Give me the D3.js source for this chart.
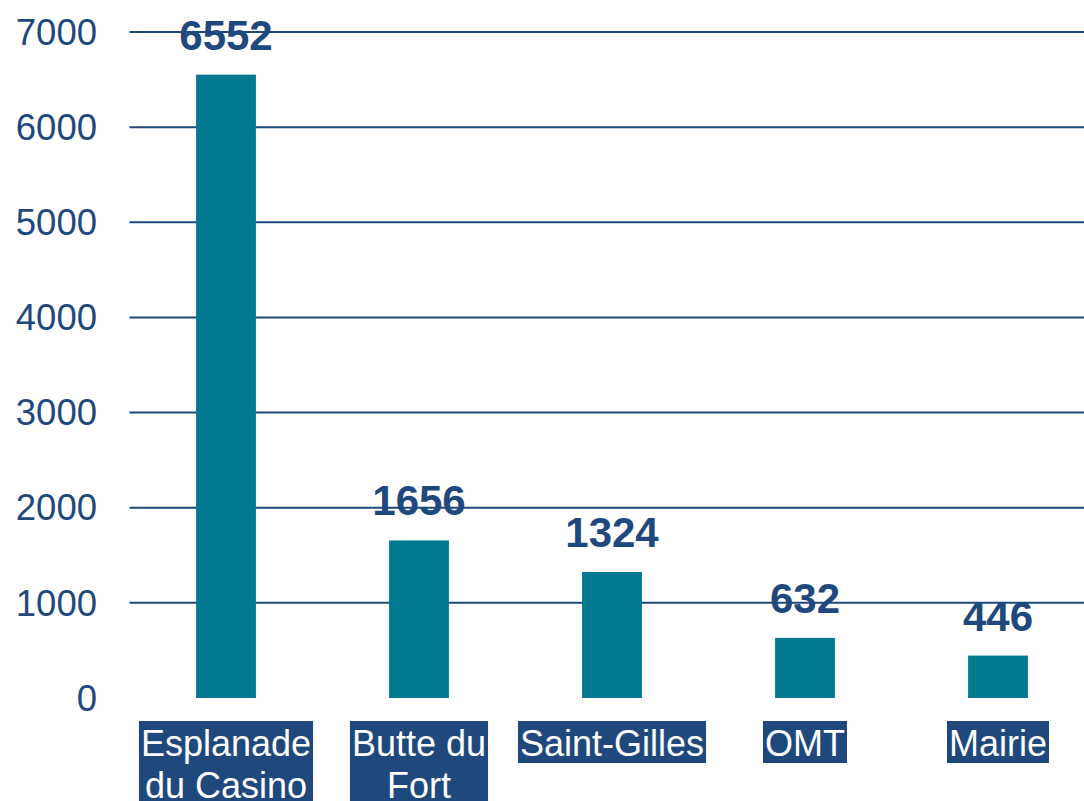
<!DOCTYPE html>
<html>
<head>
<meta charset="utf-8">
<script src="https://cdn.jsdelivr.net/npm/d3@7"></script>
<style>
  html, body { margin: 0; padding: 0; background: #fff; overflow: hidden; }
  text { font-family: "Liberation Sans", Arial, sans-serif; }
</style>
</head>
<body>
<div id="chart"></div>
<script>
// data
var categories = ["Esplanade du Casino", "Butte du Fort", "Saint-Gilles", "OMT", "Mairie"];
var labelLines = [["Esplanade", "du Casino"], ["Butte du", "Fort"], ["Saint-Gilles"], ["OMT"], ["Mairie"]];
var values = [6552, 1656, 1324, 632, 446];
var yTicks = [0, 1000, 2000, 3000, 4000, 5000, 6000, 7000];

var width = 1084, height = 801;
var barColor = "#037891", textColor = "#1F497D";

var svg = d3.select("#chart").append("svg")
    .attr("width", width)
    .attr("height", height);

var x = d3.scaleBand()
    .domain(categories)
    .range([129.5, 1094.5])
    .paddingInner(0.69)
    .paddingOuter(0.345);

var y = d3.scaleLinear()
    .domain([0, 7000])
    .range([698, 32]);

// gridlines (no line at zero)
svg.append("g")
  .selectAll("line")
  .data(yTicks.filter(function(d) { return d > 0; }))
  .enter().append("line")
    .attr("x1", 129.5)
    .attr("x2", 1094.5)
    .attr("y1", function(d) { return y(d); })
    .attr("y2", function(d) { return y(d); })
    .attr("stroke", textColor)
    .attr("stroke-width", 2);

// y tick labels
svg.append("g")
  .selectAll("text")
  .data(yTicks)
  .enter().append("text")
    .attr("x", 97)
    .attr("y", function(d) { return y(d); })
    .attr("dy", "0.35em")
    .attr("text-anchor", "end")
    .attr("font-size", 36.5)
    .attr("fill", textColor)
    .text(function(d) { return d; });

// bars
svg.append("g")
  .selectAll("rect")
  .data(values)
  .enter().append("rect")
    .attr("x", function(d, i) { return x(categories[i]); })
    .attr("y", function(d) { return y(d); })
    .attr("width", x.bandwidth())
    .attr("height", function(d) { return y(0) - y(d); })
    .attr("fill", barColor);

// value labels
svg.append("g")
  .selectAll("text")
  .data(values)
  .enter().append("text")
    .attr("x", function(d, i) { return x(categories[i]) + x.bandwidth() / 2; })
    .attr("y", function(d) { return y(d) - 25; })
    .attr("text-anchor", "middle")
    .attr("font-size", 42)
    .attr("font-weight", "bold")
    .attr("fill", textColor)
    .text(function(d) { return d; });

// category labels: white text on a dark blue block
var cat = svg.append("g")
  .selectAll("g")
  .data(categories)
  .enter().append("g")
    .attr("transform", function(d) { return "translate(" + (x(d) + x.bandwidth() / 2) + ",0)"; });

cat.append("rect")
    .attr("fill", textColor);

cat.each(function(d, i) {
  var g = d3.select(this);
  var t = g.append("text")
      .attr("text-anchor", "middle")
      .attr("font-size", 36)
      .attr("fill", "#fff");
  labelLines[i].forEach(function(line, k) {
    t.append("tspan")
      .attr("x", 0)
      .attr("y", 756 + k * 42)
      .text(line);
  });
  var w = 0;
  t.selectAll("tspan").each(function() { w = Math.max(w, this.getComputedTextLength()); });
  g.select("rect")
    .attr("x", -w / 2 - 2)
    .attr("y", 721)
    .attr("width", w + 4)
    .attr("height", labelLines[i].length * 42);
});
</script>
</body>
</html>
